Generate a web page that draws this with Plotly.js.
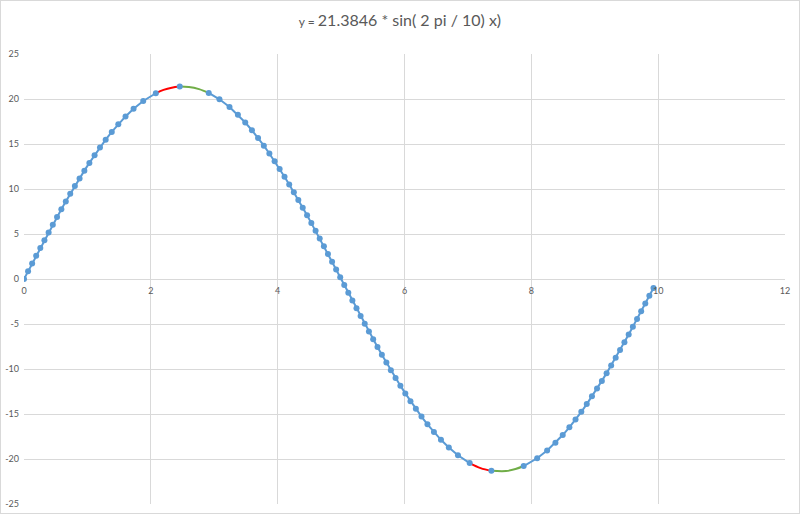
<!DOCTYPE html>
<html>
<head>
<meta charset="utf-8">
<script src="https://cdn.plot.ly/plotly-3.0.1.min.js"></script>
<style>
  html, body { margin: 0; padding: 0; background: #ffffff; }
  #wrap { position: relative; width: 800px; height: 514px; }
  #chart { width: 800px; height: 514px; }
  #frame { position: absolute; left: 0; top: 0; width: 800px; height: 514px; box-sizing: border-box; border: 1px solid #d9d9d9; pointer-events: none; }
</style>
</head>
<body>
<div id="wrap"><div id="chart"></div><div id="frame"></div></div>
<script>
// Rising branch (start)
const riseX = [0, 0.064, 0.128, 0.192, 0.257, 0.322, 0.388, 0.454, 0.521, 0.589, 0.659, 0.729, 0.802, 0.876, 0.952, 1.031, 1.113, 1.198, 1.288, 1.384, 1.487, 1.601, 1.728, 1.880, 2.079];
const riseY = [0, 0.86, 1.72, 2.58, 3.44, 4.30, 5.16, 6.02, 6.88, 7.74, 8.60, 9.46, 10.32, 11.18, 12.04, 12.90, 13.76, 14.62, 15.48, 16.34, 17.20, 18.06, 18.92, 19.78, 20.64];
// Peak point
const peakX = [2.456];
const peakY = [21.38];
// Falling branch
const fallX = [2.913, 3.082, 3.241, 3.373, 3.489, 3.594, 3.691, 3.782, 3.869, 3.952, 4.031, 4.108, 4.182, 4.255, 4.326, 4.395, 4.464, 4.531, 4.598, 4.663, 4.729, 4.793, 4.858, 4.922, 4.986, 5.050, 5.114, 5.178, 5.243, 5.308, 5.373, 5.439, 5.506, 5.574, 5.643, 5.714, 5.785, 5.859, 5.935, 6.013, 6.094, 6.179, 6.268, 6.362, 6.464, 6.575, 6.699, 6.843, 7.028];
const fallY = [20.67, 19.97, 19.11, 18.25, 17.39, 16.53, 15.67, 14.81, 13.95, 13.09, 12.23, 11.37, 10.51, 9.65, 8.79, 7.93, 7.07, 6.21, 5.35, 4.49, 3.63, 2.77, 1.91, 1.05, 0.19, -0.67, -1.53, -2.39, -3.25, -4.11, -4.97, -5.83, -6.69, -7.55, -8.41, -9.27, -10.13, -10.99, -11.85, -12.71, -13.57, -14.43, -15.29, -16.15, -17.01, -17.87, -18.73, -19.59, -20.45];
// Trough point
const troughX = [7.37];
const troughY = [-21.31];
// Rising branch (end)
const endX = [7.879, 8.092, 8.249, 8.380, 8.495, 8.600, 8.697, 8.788, 8.874, 8.956, 9.036, 9.112, 9.187, 9.259, 9.330, 9.399, 9.468, 9.535, 9.601, 9.667, 9.732, 9.797, 9.861, 9.926];
const endY = [-20.78, -19.92, -19.06, -18.20, -17.34, -16.48, -15.62, -14.76, -13.90, -13.04, -12.18, -11.32, -10.46, -9.60, -8.74, -7.88, -7.02, -6.16, -5.30, -4.44, -3.58, -2.72, -1.86, -1.00];
// Red and green connecting segments
const redX = [2.079, 2.2, 2.33, 2.456, null, 7.028, 7.2, 7.37];
const redY = [20.64, 21.01, 21.26, 21.38, null, -20.45, -21.01, -21.31];
const greenX = [2.456, 2.6, 2.76, 2.913, null, 7.37, 7.6, 7.75, 7.879];
const greenY = [21.38, 21.34, 21.10, 20.67, null, -21.31, -21.34, -21.12, -20.78];
// Axis ticks
const xTicks = [0, 2, 4, 6, 8, 10, 12];
const yTicks = [-25, -20, -15, -10, -5, 0, 5, 10, 15, 20, 25];
const titleText = "<span style='font-size:12px'>y = </span>21.3846 * sin( 2 pi / 10) x)";

const blueX = [].concat(riseX, [null], peakX, [null], fallX, [null], troughX, [null], endX);
const blueY = [].concat(riseY, [null], peakY, [null], fallY, [null], troughY, [null], endY);

const traces = [
  { x: redX, y: redY, type: 'scatter', mode: 'lines', line: { color: '#ff0000', width: 2, shape: 'spline' }, connectgaps: false, hoverinfo: 'skip' },
  { x: greenX, y: greenY, type: 'scatter', mode: 'lines', line: { color: '#70ad47', width: 2, shape: 'spline' }, connectgaps: false, hoverinfo: 'skip' },
  { x: blueX, y: blueY, type: 'scatter', mode: 'lines+markers', line: { color: '#5b9bd5', width: 2 }, marker: { color: '#5b9bd5', size: 6 }, connectgaps: false }
];

const axisFont = { family: 'Lato, "Open Sans", sans-serif', size: 9, color: '#595959' };

const layout = {
  width: 800, height: 514,
  margin: { l: 24, r: 15, t: 54, b: 10 },
  paper_bgcolor: '#ffffff', plot_bgcolor: '#ffffff',
  showlegend: false,
  title: { text: titleText, font: { family: 'Lato, "Open Sans", sans-serif', size: 16, color: '#595959' }, x: 0.5, xanchor: 'center', y: 0.96, yanchor: 'middle' },
  xaxis: {
    range: [0, 12], tickvals: xTicks, ticktext: xTicks.map(String),
    showgrid: true, gridcolor: '#d9d9d9', gridwidth: 1,
    zeroline: false, showline: false, ticks: '',
    anchor: 'free', position: 0.5,
    ticklabelstandoff: 5,
    tickfont: axisFont
  },
  yaxis: {
    range: [-25, 25], tickvals: yTicks, ticktext: yTicks.map(String),
    showgrid: true, gridcolor: '#d9d9d9', gridwidth: 1,
    zeroline: true, zerolinecolor: '#d9d9d9', zerolinewidth: 1,
    showline: false, ticks: '',
    ticklabelstandoff: 4,
    tickfont: axisFont
  }
};

Plotly.newPlot('chart', traces, layout, { displayModeBar: false, staticPlot: true });
</script>
</body>
</html>
